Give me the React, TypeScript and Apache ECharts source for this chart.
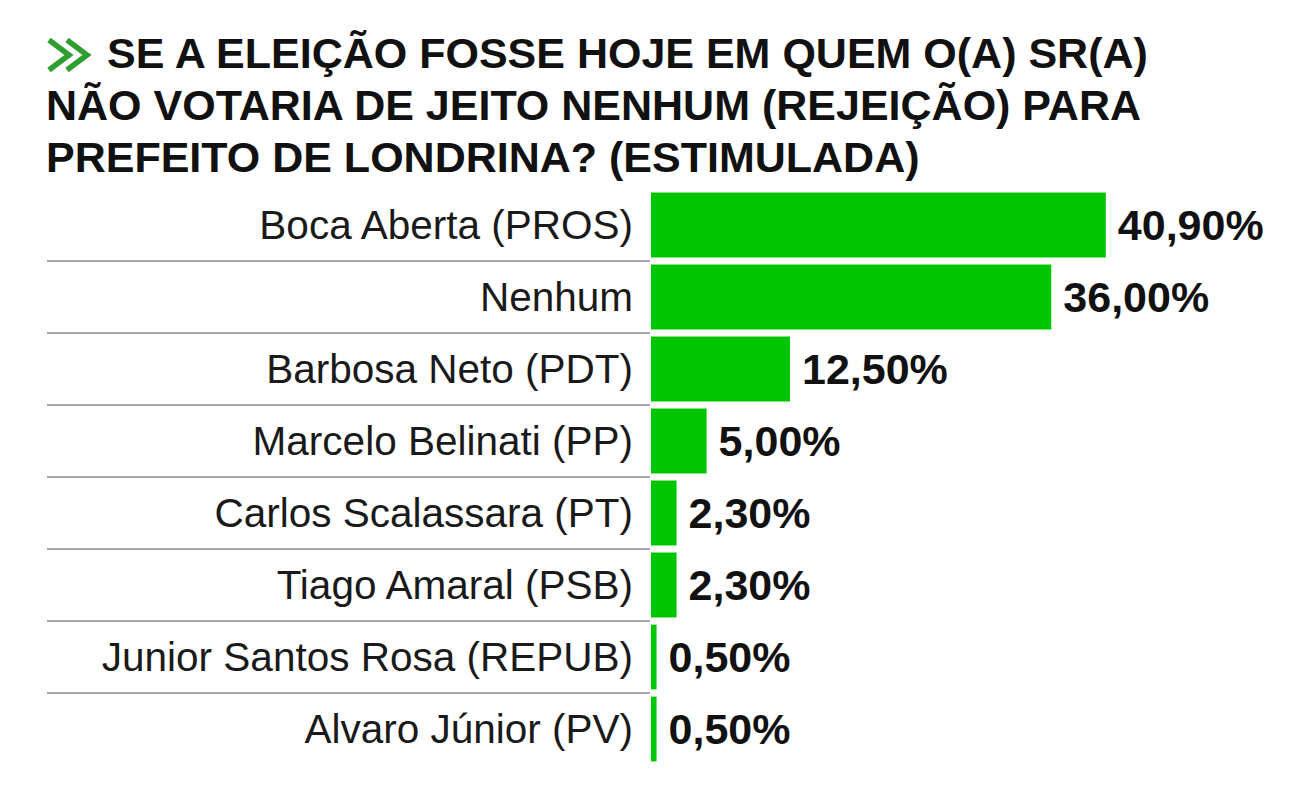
import { useEffect, useRef } from 'react';
import * as echarts from 'echarts';

const titleFirstLine = 'SE A ELEIÇÃO FOSSE HOJE EM QUEM O(A) SR(A)';
const titleRest = 'NÃO VOTARIA DE JEITO NENHUM (REJEIÇÃO) PARA\nPREFEITO DE LONDRINA? (ESTIMULADA)';

const candidates = [
  'Boca Aberta (PROS)',
  'Nenhum',
  'Barbosa Neto (PDT)',
  'Marcelo Belinati (PP)',
  'Carlos Scalassara (PT)',
  'Tiago Amaral (PSB)',
  'Junior Santos Rosa (REPUB)',
  'Alvaro Júnior (PV)',
];

const rejection = [40.9, 36.0, 12.5, 5.0, 2.3, 2.3, 0.5, 0.5];

const FONT = "'Liberation Sans', Arial, Helvetica, sans-serif";
const GREEN = '#00c600';

const titleStyle = {
  fontFamily: FONT,
  fontSize: 43,
  fontWeight: 'bold',
  lineHeight: 52,
  color: '#111111',
};

export default function App() {
  const chartRef = useRef<HTMLDivElement>(null);

  useEffect(() => {
    if (!chartRef.current) return;
    document.body.style.margin = '0';
    const chart = echarts.init(chartRef.current, undefined, { renderer: 'svg' });

    chart.setOption({
      animation: false,
      backgroundColor: '#ffffff',
      title: [
        { text: titleFirstLine, left: 107, top: 27, padding: 0, textStyle: titleStyle },
        { text: titleRest, left: 46, top: 79, padding: 0, textStyle: titleStyle },
      ],
      graphic: [
        {
          type: 'polyline',
          shape: { points: [[49, 40], [69, 55], [49, 70]] },
          style: { stroke: '#2e9e2e', lineWidth: 5.5, fill: 'none' },
        },
        {
          type: 'polyline',
          shape: { points: [[67, 40], [87, 55], [67, 70]] },
          style: { stroke: '#2e9e2e', lineWidth: 5.5, fill: 'none' },
        },
      ],
      grid: [
        { left: 651, right: 101, top: 189, bottom: 35 },
        { left: 47, right: 658, top: 189, bottom: 35 },
      ],
      xAxis: [
        { type: 'value', gridIndex: 0, min: 0, max: 50, show: false },
        { type: 'value', gridIndex: 1, min: 0, max: 1, show: false },
      ],
      yAxis: [
        {
          type: 'category',
          gridIndex: 0,
          data: candidates,
          inverse: true,
          axisLine: { show: false },
          axisTick: { show: false },
          splitLine: { show: false },
          axisLabel: {
            margin: 18,
            fontFamily: FONT,
            fontSize: 40.5,
            color: '#1a1a1a',
          },
        },
        {
          type: 'category',
          gridIndex: 1,
          data: candidates,
          inverse: true,
          axisLine: { show: false },
          axisTick: { show: false },
          axisLabel: { show: false },
          splitLine: {
            show: true,
            showMinLine: false,
            showMaxLine: false,
            lineStyle: { color: '#a8a8a8', width: 2 },
          },
        },
      ],
      series: [
        {
          type: 'bar',
          xAxisIndex: 0,
          yAxisIndex: 0,
          data: rejection,
          barCategoryGap: '10%',
          itemStyle: { color: GREEN },
          label: {
            show: true,
            position: 'right',
            distance: 12,
            fontFamily: FONT,
            fontSize: 43,
            fontWeight: 'bold',
            color: '#111111',
            formatter: (p: any) => `${p.value.toFixed(2).replace('.', ',')}%`,
          },
        },
      ],
    });

    return () => {
      chart.dispose();
    };
  }, []);

  return (
    <div
      ref={chartRef}
      style={{ position: 'fixed', left: 0, top: 0, width: 1308, height: 800 }}
    />
  );
}
